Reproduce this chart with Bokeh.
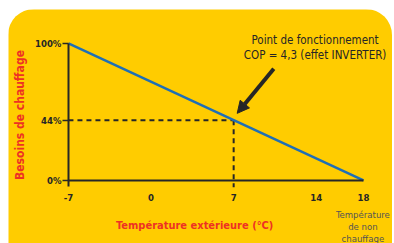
from bokeh.plotting import figure
from bokeh.models import Range1d, Label, Arrow, NormalHead, FixedTicker
from bokeh.embed import file_html
from bokeh.resources import INLINE

# data
temps = [-7, 18]            # outdoor temperature (°C)
needs = [100, 0]            # heating needs (%)
x_ticks = [-7, 0, 7, 14, 18]
x_tick_labels = ["-7", "0", "7", "14", "18"]
y_ticks = [0, 44, 100]
y_tick_labels = ["0%", "44%", "100%"]
op_temp = 7
op_need = 44

YELLOW = "#ffcc00"
RED = "#ee3124"
BLUE = "#1f6fb6"
DARK = "#262626"
FONT = "DejaVu Sans Condensed"

p = figure(width=384, height=234, output_backend="svg", toolbar_location=None,
           x_range=Range1d(-12.08, 20.46), y_range=Range1d(-46.0, 124.8),
           min_border_left=0, min_border_right=0, min_border_top=0, min_border_bottom=0,
           background_fill_color=YELLOW, border_fill_color=YELLOW, outline_line_color=None,
           styles={"border-radius": "26px 26px 0 0", "overflow": "hidden",
                   "margin-left": "8px", "margin-top": "9px"})
p.grid.visible = False

# axes placed at the data origin
p.xaxis.fixed_location = needs[1]
p.xaxis.ticker = FixedTicker(ticks=x_ticks)
p.xaxis.major_label_overrides = {t: l for t, l in zip(x_ticks, x_tick_labels)}
p.xaxis.bounds = (temps[0], temps[1])
p.xaxis.major_tick_out = 0
p.xaxis.major_tick_in = 0
p.xaxis.minor_tick_line_color = None
p.xaxis.axis_line_width = 2
p.xaxis.axis_line_color = DARK
p.xaxis.major_label_standoff = 14

p.yaxis.fixed_location = temps[0]
p.yaxis.ticker = FixedTicker(ticks=y_ticks)
p.yaxis.major_label_overrides = {t: l for t, l in zip(y_ticks, y_tick_labels)}
p.yaxis.bounds = (-4.5, needs[0])
p.yaxis.major_tick_out = 6
p.yaxis.major_tick_in = 0
p.yaxis.major_tick_line_width = 1.5
p.yaxis.major_tick_line_color = DARK
p.yaxis.minor_tick_line_color = None
p.yaxis.axis_line_width = 2
p.yaxis.axis_line_color = DARK
p.yaxis.major_label_standoff = 1
p.yaxis.axis_label = "Besoins de chauffage"
p.yaxis.axis_label_standoff = 5

for ax in (p.xaxis, p.yaxis):
    ax.major_label_text_font = FONT
    ax.major_label_text_font_style = "bold"
    ax.major_label_text_font_size = "9.5px"
    ax.major_label_text_color = DARK
    ax.axis_label_text_font = FONT
    ax.axis_label_text_font_style = "bold"
    ax.axis_label_text_font_size = "12px"
    ax.axis_label_text_color = RED

# x axis title
p.add_layout(Label(x=3.7, y=-32.8, text="Température extérieure (°C)",
                   text_font=FONT, text_font_style="bold", text_font_size="11px",
                   text_color=RED, text_align="center", text_baseline="middle"))

# dashed guide lines
p.line([temps[0], op_temp], [op_need, op_need], line_color=DARK, line_width=2, line_dash="5 4")
p.line([op_temp, op_temp], [op_need, -5], line_color=DARK, line_width=2, line_dash="5 4")

# heating need line
p.line(temps, needs, line_color=BLUE, line_width=2.5)

# pointer arrow
p.add_layout(Arrow(end=NormalHead(size=12, fill_color=DARK, line_color=DARK),
                   x_start=op_temp + 3.4, y_start=op_need + 37.5,
                   x_end=op_temp + 0.3, y_end=op_need + 5,
                   line_color=DARK, line_width=4))

p.add_layout(Label(x=op_temp + 6.9, y=op_need + 58.5, text="Point de fonctionnement",
                   text_font=FONT, text_font_size="11.5px", text_color=DARK,
                   text_align="center", text_baseline="middle"))
p.add_layout(Label(x=op_temp + 6.9, y=op_need + 47.5, text="COP = 4,3 (effet INVERTER)",
                   text_font=FONT, text_font_size="11.5px", text_color=DARK,
                   text_align="center", text_baseline="middle"))
p.add_layout(Label(x=temps[1] - 0.05, y=-21, text="Température\nde non\nchauffage",
                   text_font=FONT, text_font_size="9.5px", text_color="#555555",
                   text_align="center", text_baseline="top", text_line_height=1.1))

open("out.html", "w").write(file_html(p, INLINE))
